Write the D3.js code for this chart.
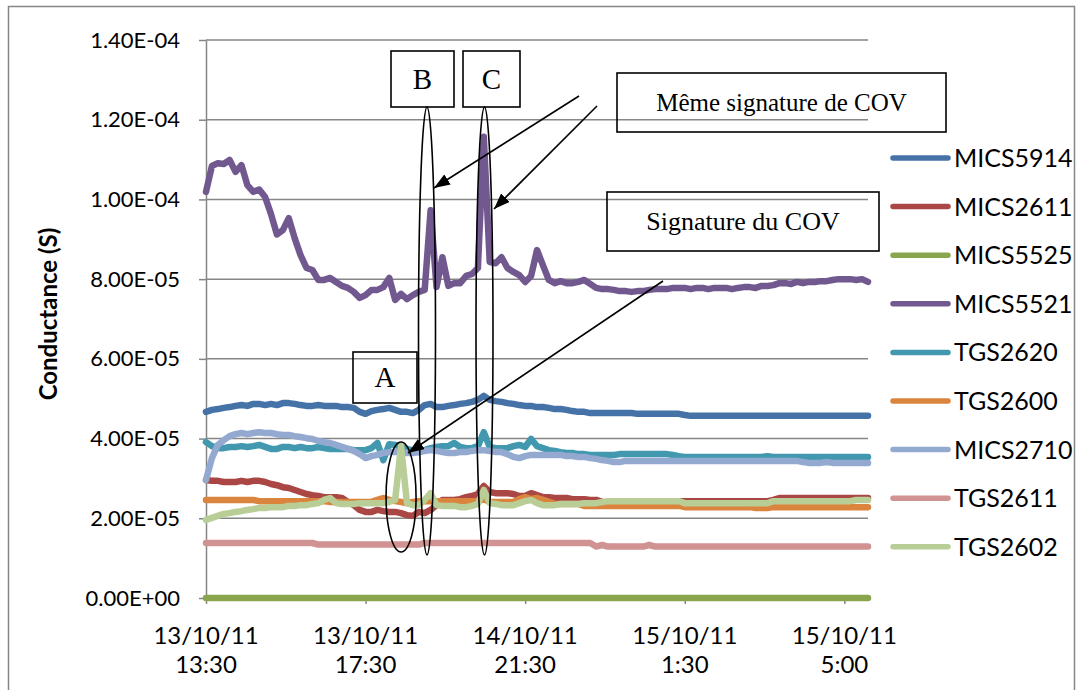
<!DOCTYPE html>
<html><head><meta charset="utf-8">
<script src="https://cdn.jsdelivr.net/npm/d3@7"></script>
<style>body{margin:0;background:#fff}svg{display:block}</style>
</head><body><svg id="c" width="1083" height="690"></svg>
<script>
// ---------- DATA (values in units of 1e-5 S) ----------
const UNIT = 1e-5;
const seriesNames = ["MICS5914","MICS2611","MICS5525","MICS5521","TGS2620","TGS2600","MICS2710","TGS2611","TGS2602"];
const seriesColors = ["#4572A7","#AA4643","#89A54E","#71588F","#4198AF","#DB843D","#93A9CF","#D19392","#B9CD96"];

const MICS5914 = [4.67,4.72,4.74,4.77,4.79,4.82,4.84,4.82,4.87,4.87,
4.84,4.87,4.84,4.89,4.89,4.87,4.84,4.82,4.82,4.84,
4.82,4.82,4.82,4.79,4.79,4.77,4.67,4.62,4.69,4.72,
4.74,4.77,4.72,4.67,4.67,4.64,4.72,4.84,4.87,4.79,
4.79,4.82,4.84,4.87,4.89,4.92,4.97,5.07,4.97,4.94,
4.92,4.89,4.87,4.84,4.82,4.82,4.79,4.79,4.77,4.74,
4.74,4.72,4.69,4.67,4.67,4.64,4.64,4.64,4.64,4.64,
4.64,4.64,4.64,4.62,4.62,4.62,4.62,4.62,4.62,4.62,
4.62,4.59,4.57,4.57,4.57,4.57,4.57,4.57,4.57,4.57,
4.57,4.57,4.57,4.57,4.57,4.57,4.57,4.57,4.57,4.57,
4.57,4.57,4.57,4.57,4.57,4.57,4.57,4.57,4.57,4.57,
4.57,4.57,4.57];

const MICS2611 = [2.96,2.94,2.94,2.91,2.91,2.91,2.94,2.91,2.94,2.94,
2.91,2.86,2.83,2.78,2.76,2.71,2.66,2.61,2.58,2.56,
2.53,2.53,2.53,2.51,2.41,2.33,2.21,2.16,2.16,2.21,
2.18,2.16,2.16,2.13,2.08,2.06,2.16,2.13,2.21,2.33,
2.46,2.46,2.46,2.48,2.53,2.56,2.61,2.81,2.66,2.63,
2.63,2.63,2.61,2.56,2.56,2.63,2.58,2.53,2.53,2.51,
2.51,2.51,2.48,2.48,2.48,2.46,2.46,2.41,2.38,2.41,
2.43,2.43,2.43,2.43,2.43,2.43,2.43,2.43,2.43,2.43,
2.43,2.43,2.43,2.43,2.43,2.43,2.43,2.43,2.43,2.43,
2.43,2.43,2.43,2.43,2.43,2.43,2.46,2.51,2.51,2.51,
2.51,2.51,2.51,2.51,2.51,2.51,2.51,2.51,2.51,2.51,
2.51,2.51,2.51];

const MICS5525 = [0,0,0,0,0,0,0,0,0,0,
0,0,0,0,0,0,0,0,0,0,
0,0,0,0,0,0,0,0,0,0,
0,0,0,0,0,0,0,0,0,0,
0,0,0,0,0,0,0,0,0,0,
0,0,0,0,0,0,0,0,0,0,
0,0,0,0,0,0,0,0,0,0,
0,0,0,0,0,0,0,0,0,0,
0,0,0,0,0,0,0,0,0,0,
0,0,0,0,0,0,0,0,0,0,
0,0,0,0,0,0,0,0,0,0,
0,0,0];

const MICS5521 = [10.19,10.84,10.91,10.89,10.99,10.69,10.86,10.36,10.19,10.25,
10.06,9.63,9.12,9.23,9.53,9.03,8.6,8.28,8.23,7.98,
7.98,8.03,7.93,7.83,7.78,7.68,7.53,7.6,7.73,7.73,
7.8,8.03,7.48,7.63,7.5,7.6,7.68,7.73,9.73,7.8,
8.55,7.83,7.9,7.9,8.08,8.13,8.28,11.57,8.43,8.4,
8.55,8.28,8.18,8.1,7.93,8.08,8.73,8.35,7.98,7.9,
7.95,7.9,7.9,7.93,7.98,7.88,7.78,7.75,7.75,7.73,
7.7,7.7,7.68,7.7,7.7,7.73,7.75,7.75,7.75,7.78,
7.78,7.78,7.75,7.78,7.78,7.75,7.78,7.78,7.78,7.75,
7.78,7.8,7.8,7.78,7.83,7.83,7.85,7.9,7.9,7.88,
7.93,7.9,7.93,7.93,7.95,7.95,7.98,8.0,8.0,8.0,
7.98,8.0,7.93];

const TGS2620 = [3.91,3.81,3.76,3.76,3.79,3.79,3.81,3.79,3.81,3.84,
3.79,3.74,3.74,3.79,3.79,3.76,3.79,3.76,3.76,3.79,
3.76,3.74,3.74,3.74,3.74,3.71,3.71,3.71,3.76,3.89,
3.46,3.86,3.84,3.79,3.74,3.69,3.66,3.71,3.76,3.79,
3.81,3.81,3.89,3.79,3.76,3.76,3.81,4.16,3.79,3.76,
3.76,3.76,3.81,3.84,3.79,3.99,3.81,3.76,3.71,3.69,
3.66,3.64,3.64,3.61,3.61,3.59,3.59,3.59,3.59,3.59,
3.61,3.61,3.61,3.61,3.61,3.61,3.61,3.61,3.61,3.59,
3.56,3.54,3.54,3.54,3.54,3.54,3.54,3.54,3.54,3.54,
3.54,3.54,3.54,3.54,3.54,3.56,3.54,3.54,3.54,3.54,
3.54,3.54,3.54,3.54,3.54,3.54,3.54,3.54,3.54,3.54,
3.54,3.54,3.54];

const TGS2600 = [2.46,2.46,2.46,2.46,2.46,2.46,2.46,2.46,2.46,2.43,
2.43,2.43,2.43,2.43,2.43,2.43,2.43,2.43,2.43,2.43,
2.43,2.41,2.41,2.41,2.41,2.41,2.41,2.41,2.41,2.46,
2.51,2.46,2.43,2.41,2.38,2.41,2.43,2.43,2.43,2.43,
2.43,2.43,2.43,2.43,2.43,2.43,2.43,2.48,2.41,2.41,
2.41,2.41,2.41,2.48,2.53,2.48,2.51,2.46,2.41,2.36,
2.36,2.36,2.36,2.36,2.31,2.31,2.31,2.31,2.31,2.31,
2.31,2.31,2.31,2.31,2.31,2.31,2.31,2.31,2.31,2.31,
2.31,2.28,2.28,2.28,2.28,2.28,2.28,2.28,2.28,2.28,
2.28,2.28,2.28,2.26,2.26,2.26,2.28,2.28,2.28,2.28,
2.28,2.28,2.28,2.28,2.28,2.28,2.28,2.28,2.28,2.28,
2.28,2.28,2.28];

const MICS2710 = [2.96,3.51,3.84,3.96,4.06,4.11,4.14,4.11,4.14,4.16,
4.14,4.14,4.11,4.09,4.09,4.06,4.04,4.01,3.99,3.94,
3.91,3.89,3.84,3.79,3.74,3.69,3.61,3.51,3.56,3.59,
3.64,3.66,3.66,3.66,3.64,3.64,3.66,3.69,3.71,3.69,
3.66,3.64,3.64,3.66,3.66,3.69,3.71,3.71,3.69,3.66,
3.66,3.61,3.54,3.51,3.56,3.59,3.59,3.59,3.59,3.59,
3.59,3.56,3.56,3.54,3.54,3.51,3.49,3.46,3.44,3.41,
3.41,3.44,3.44,3.44,3.44,3.44,3.44,3.44,3.44,3.44,
3.44,3.44,3.44,3.44,3.44,3.44,3.44,3.44,3.44,3.44,
3.44,3.44,3.44,3.44,3.44,3.44,3.44,3.44,3.44,3.44,
3.44,3.41,3.39,3.39,3.39,3.41,3.39,3.39,3.39,3.39,
3.39,3.39,3.39];

const TGS2611 = [1.38,1.38,1.38,1.38,1.38,1.38,1.38,1.38,1.38,1.38,
1.38,1.38,1.38,1.38,1.38,1.38,1.38,1.38,1.38,1.34,
1.34,1.34,1.34,1.34,1.34,1.34,1.34,1.34,1.34,1.34,
1.34,1.34,1.34,1.34,1.34,1.34,1.34,1.38,1.38,1.38,
1.38,1.38,1.38,1.38,1.38,1.38,1.38,1.38,1.38,1.38,
1.38,1.38,1.38,1.38,1.38,1.38,1.38,1.38,1.38,1.38,
1.38,1.38,1.38,1.38,1.38,1.38,1.29,1.33,1.29,1.29,
1.29,1.29,1.29,1.29,1.29,1.33,1.29,1.29,1.29,1.29,
1.29,1.29,1.29,1.29,1.29,1.29,1.29,1.29,1.29,1.29,
1.29,1.29,1.29,1.29,1.29,1.29,1.29,1.29,1.29,1.29,
1.29,1.29,1.29,1.29,1.29,1.29,1.29,1.29,1.29,1.29,
1.29,1.29,1.29];

const TGS2602 = [1.96,2.01,2.06,2.11,2.13,2.16,2.18,2.21,2.23,2.26,
2.26,2.28,2.28,2.28,2.31,2.31,2.33,2.33,2.36,2.38,
2.46,2.51,2.38,2.36,2.36,2.36,2.38,2.38,2.38,2.38,
2.38,2.41,2.46,3.81,2.38,2.33,2.33,2.46,2.63,2.33,
2.31,2.31,2.31,2.28,2.28,2.31,2.36,2.71,2.38,2.36,
2.33,2.33,2.33,2.38,2.43,2.46,2.38,2.33,2.33,2.33,
2.36,2.36,2.36,2.36,2.38,2.38,2.38,2.41,2.43,2.43,
2.43,2.43,2.43,2.43,2.43,2.43,2.43,2.43,2.43,2.43,
2.43,2.38,2.38,2.38,2.38,2.38,2.38,2.38,2.38,2.38,
2.38,2.38,2.38,2.38,2.38,2.38,2.43,2.43,2.43,2.43,
2.43,2.43,2.43,2.43,2.43,2.43,2.43,2.43,2.43,2.43,
2.46,2.46,2.46];

const seriesValues = [MICS5914,MICS2611,MICS5525,MICS5521,TGS2620,TGS2600,MICS2710,TGS2611,TGS2602];

const yTickValues = [0,2,4,6,8,10,12,14];
const yTickLabels = ["0.00E+00","2.00E-05","4.00E-05","6.00E-05","8.00E-05","1.00E-04","1.20E-04","1.40E-04"];
const xTickIndex = [0,27,54,81,108];
const xTickDates = ["13/10/11","13/10/11","14/10/11","15/10/11","15/10/11"];
const xTickTimes = ["13:30","17:30","21:30","1:30","5:00"];
const yTitle = "Conductance (S)";

// ---------- LAYOUT ----------
const svg = d3.select("#c");
const L = 206, R = 868, T = 40, B = 598;
const x = d3.scaleLinear().domain([0, MICS5914.length - 1]).range([L, R]);
const y = d3.scaleLinear().domain([0, 14]).range([B, T]);
const AX = "#868686";
const TICKFONT = "Lato, 'Open Sans', sans-serif";

// outer frame
svg.append("rect").attr("x", 8.5).attr("y", 6.5).attr("width", 1066).attr("height", 720)
  .attr("fill", "none").attr("stroke", AX).attr("stroke-width", 1.5);

// gridlines
svg.append("g").selectAll("line").data(yTickValues.slice(1)).join("line")
  .attr("x1", L).attr("x2", R).attr("y1", d => y(d)).attr("y2", d => y(d))
  .attr("stroke", AX).attr("stroke-width", 1.5);

// y axis
const gy = svg.append("g").attr("transform", `translate(${L},0)`)
  .call(d3.axisLeft(y).tickValues(yTickValues).tickFormat((d, i) => yTickLabels[i]).tickSize(7).tickSizeOuter(0).tickPadding(19));
gy.selectAll("path,line").attr("stroke", AX).attr("stroke-width", 1.5);
gy.selectAll("text").attr("font-family", TICKFONT).attr("font-size", 22).attr("fill", "#000");

// x axis
const gx = svg.append("g").attr("transform", `translate(0,${B})`)
  .call(d3.axisBottom(x).tickValues(xTickIndex).tickFormat("").tickSize(6).tickSizeOuter(0));
gx.selectAll("path,line").attr("stroke", AX).attr("stroke-width", 1.5);
const xlab = svg.append("g").attr("text-anchor", "middle").attr("font-family", TICKFONT)
  .attr("font-size", 24).attr("fill", "#000");
xlab.selectAll("text.d").data(xTickIndex).join("text").attr("class", "d")
  .attr("x", d => x(d)).attr("y", 644).text((d, i) => xTickDates[i]);
xlab.selectAll("text.t").data(xTickIndex).join("text").attr("class", "t")
  .attr("x", d => x(d)).attr("y", 673).text((d, i) => xTickTimes[i]);

// y title
svg.append("text").attr("transform", "translate(57,314) rotate(-90)")
  .attr("text-anchor", "middle").attr("font-family", TICKFONT).attr("font-weight", "bold")
  .attr("font-size", 24).attr("fill", "#000").text(yTitle);

// series
const line = d3.line().x((d, i) => x(i)).y(d => y(d));
svg.append("g").selectAll("path").data(seriesValues).join("path")
  .attr("d", line).attr("fill", "none")
  .attr("stroke", (d, i) => seriesColors[i]).attr("stroke-width", 6.5)
  .attr("stroke-linejoin", "round").attr("stroke-linecap", "round");

// legend
const lg = svg.append("g").selectAll("g").data(seriesNames).join("g")
  .attr("transform", (d, i) => `translate(0,${158 + i * 48.6})`);
lg.append("line").attr("x1", 893).attr("x2", 948).attr("y1", 0).attr("y2", 0)
  .attr("stroke", (d, i) => seriesColors[i]).attr("stroke-width", 5.5).attr("stroke-linecap", "round");
lg.append("text").attr("x", 954).attr("y", 9).attr("font-family", TICKFONT).attr("font-size", 25)
  .attr("fill", "#000").text(d => d);

// ---------- ANNOTATIONS ----------
const SERIF = "'Liberation Serif', 'Times New Roman', serif";
const defs = svg.append("defs");
defs.append("marker").attr("id", "ah").attr("viewBox", "0 0 16 12").attr("refX", 16).attr("refY", 6)
  .attr("markerWidth", 16).attr("markerHeight", 12).attr("markerUnits", "userSpaceOnUse").attr("orient", "auto")
  .append("path").attr("d", "M0,0 L16,6 L0,12 Z").attr("fill", "#000");

const ann = svg.append("g").attr("fill", "none").attr("stroke", "#000").attr("stroke-width", 1.6);
const boxes = [
  {x: 353, y: 352, w: 64, h: 51, t: "A", fs: 29},
  {x: 391, y: 51, w: 63, h: 56, t: "B", fs: 29},
  {x: 463, y: 51, w: 57, h: 56, t: "C", fs: 29},
  {x: 617, y: 73, w: 329, h: 59, t: "Même signature de COV", fs: 25},
  {x: 607, y: 192, w: 272, h: 59, t: "Signature du COV", fs: 26}
];
ann.selectAll("rect").data(boxes).join("rect")
  .attr("x", d => d.x).attr("y", d => d.y).attr("width", d => d.w).attr("height", d => d.h);
svg.append("g").selectAll("text").data(boxes).join("text")
  .attr("x", d => d.x + d.w / 2).attr("y", d => d.y + d.h / 2 + d.fs * 0.33)
  .attr("text-anchor", "middle").attr("font-family", SERIF).attr("font-size", d => d.fs)
  .attr("fill", "#000").text(d => d.t);

const ellipses = [
  {cx: x(33), cy: 497, rx: 15, ry: 55},
  {cx: 427, cy: 331, rx: 8.5, ry: 224},
  {cx: 484.5, cy: 331, rx: 8.5, ry: 224}
];
ann.selectAll("ellipse").data(ellipses).join("ellipse")
  .attr("cx", d => d.cx).attr("cy", d => d.cy).attr("rx", d => d.rx).attr("ry", d => d.ry);

const arrows = [
  {x1: 579, y1: 96, x2: 434, y2: 188},
  {x1: 597, y1: 106, x2: 494, y2: 209},
  {x1: 663, y1: 281, x2: 408, y2: 453}
];
ann.selectAll("line").data(arrows).join("line")
  .attr("x1", d => d.x1).attr("y1", d => d.y1).attr("x2", d => d.x2).attr("y2", d => d.y2)
  .attr("marker-end", "url(#ah)");
</script>
</body></html>
